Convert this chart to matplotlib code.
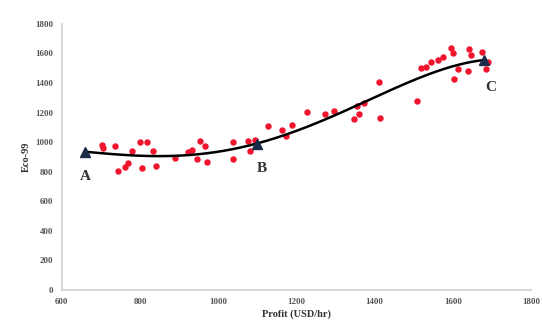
import numpy as np
import matplotlib
matplotlib.use("Agg")
import matplotlib.pyplot as plt

# scatter data (profit, eco-99)
profit = [702, 705, 736, 800, 818, 779, 833, 890, 769, 762, 744, 804, 840,
          923, 933, 954, 967, 945, 971, 1038, 1038, 1077, 1082, 1095, 1126,
          1163, 1174, 1189, 1227, 1274, 1296, 1347, 1360, 1356, 1373, 1411,
          1414, 1509, 1518, 1531, 1544, 1561, 1574, 1595, 1599, 1642, 1646,
          1674, 1612, 1638, 1603, 1684, 1689]
eco = [982, 959, 971, 998, 998, 939, 937, 890, 856, 829, 804, 825, 838,
       932, 944, 1011, 973, 888, 865, 1000, 883, 1005, 937, 1018, 1108,
       1079, 1040, 1117, 1202, 1191, 1209, 1158, 1191, 1247, 1263, 1404,
       1164, 1281, 1501, 1505, 1539, 1555, 1578, 1636, 1600, 1630, 1591,
       1613, 1495, 1479, 1427, 1495, 1539]

# trend line
trend_x = [660, 700, 800, 900, 1000, 1100, 1200, 1300, 1400, 1500, 1600, 1680]
trend_y = [935, 925, 910, 908, 935, 990, 1080, 1185, 1300, 1420, 1515, 1555]

# selected points
pt_labels = ["A", "B", "C"]
pt_x = [660, 1100, 1680]
pt_y = [935, 990, 1555]

fig = plt.figure(figsize=(5.42, 3.27), dpi=100)
ax = fig.add_axes([0.114, 0.113, 0.866, 0.814])

ax.scatter(profit, eco, s=13, color="#f0142d", zorder=2)

coef = np.polyfit(trend_x, trend_y, 4)
xs = np.linspace(trend_x[0], trend_x[-1], 200)
ax.plot(xs, np.polyval(coef, xs), color="black", lw=1.8, zorder=3)

ax.plot(pt_x, pt_y, "^", color="#1c2a4a", ms=7, zorder=4)
offsets = [(0, -18), (3, -18), (5, -20)]
for lab, x, y, off in zip(pt_labels, pt_x, pt_y, offsets):
    ax.annotate(lab, (x, y), xytext=off, textcoords="offset points",
                ha="center", va="center", fontsize=11, fontweight="bold",
                family="Liberation Serif", color="#333333")

ax.set_xlim(600, 1800)
ax.set_ylim(0, 1800)
ax.set_xticks(range(600, 1801, 200))
ax.set_yticks(range(0, 1801, 200))
for lbl in ax.get_xticklabels() + ax.get_yticklabels():
    lbl.set_family("Liberation Serif")
    lbl.set_fontweight("bold")
    lbl.set_fontsize(6.5)
    lbl.set_color("#555555")
ax.tick_params(length=0, pad=6)

for s in ["top", "right"]:
    ax.spines[s].set_visible(False)
for s in ["left", "bottom"]:
    ax.spines[s].set_color("#d9d9d9")
    ax.spines[s].set_linewidth(1.5)

ax.set_xlabel("Profit (USD/hr)", family="Liberation Serif", fontweight="bold",
              fontsize=7.5, color="#333333", labelpad=2)
ax.set_ylabel("Eco-99", family="Liberation Serif", fontweight="bold",
              fontsize=7.5, color="#333333", labelpad=3)

fig.savefig("out.png", dpi=100)
